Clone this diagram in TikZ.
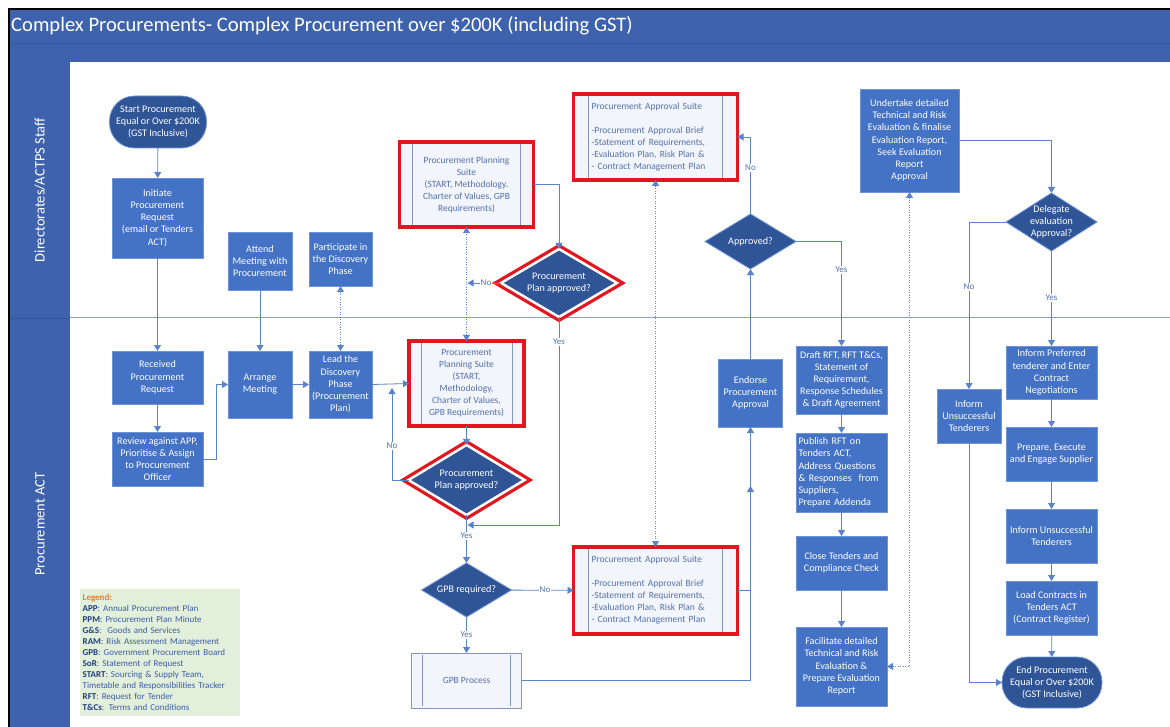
\documentclass[tikz,border=0pt]{standalone}
\usepackage{fontspec}
\setmainfont{Carlito}
\usetikzlibrary{shapes.geometric, arrows.meta, calc}
\definecolor{barblue}{HTML}{3F62AD}
\definecolor{bardark}{HTML}{34579E}
\definecolor{boxblue}{HTML}{4472C4}
\definecolor{boxedge}{HTML}{6F93D8}
\definecolor{darkblue}{HTML}{2F5597}
\definecolor{lineblue}{HTML}{5B82CC}
\definecolor{redc}{HTML}{E3161F}
\definecolor{suitefill}{HTML}{F2F5FB}
\definecolor{suiteedge}{HTML}{8496C0}
\definecolor{suitetext}{HTML}{5471AB}
\definecolor{laneline}{HTML}{8FA0C8}
\definecolor{legfill}{HTML}{E2EFDA}
\definecolor{legorange}{HTML}{ED7D31}
\definecolor{legdark}{HTML}{1F3E80}
\definecolor{legtext}{HTML}{3C5DA6}
\newcommand\bxfont{\fontsize{10.1}{12.2}\selectfont}
\newcommand\stfont{\fontsize{9.5}{12}\selectfont}
\newcommand\lbfont{\fontsize{9}{10}\selectfont}
\newcommand\lgab[1]{{\color{legdark}\bfseries #1}}
\begin{document}
\begin{tikzpicture}[x=1pt,y=-1pt,
  box/.style={rectangle, fill=boxblue, draw=boxedge, line width=0.8pt, text=white, align=center, font=\bxfont, inner sep=1pt, outer sep=0pt},
  term/.style={rectangle, rounded corners=25pt, fill=darkblue, draw=boxedge, line width=0.8pt, text=white, align=center, font=\bxfont, inner sep=1pt, outer sep=0pt},
  dec/.style={diamond, fill=darkblue, draw=boxedge, line width=0.8pt, text=white, align=center, font=\bxfont, inner sep=-12pt, outer sep=0pt, shape aspect=1.7},
  reddec/.style={dec, draw=white, line width=2.5pt, preaction={draw=redc, line width=9pt}},
  suite/.style={rectangle, fill=suitefill, draw=suiteedge, line width=0.8pt, text=suitetext, font=\stfont, align=center, inner sep=1pt, outer sep=0pt},
  redsuite/.style={suite, draw=redc, line width=3.5pt},
  conn/.style={draw=lineblue, line width=0.8pt},
  arr/.style={conn, -{Triangle[width=7pt,length=6pt]}},
  darr/.style={conn, dash pattern=on 1pt off 1.5pt, {Triangle[width=7pt,length=6pt]}-{Triangle[width=7pt,length=6pt]}},
  lbl/.style={font=\lbfont, text=suitetext, fill=white, inner sep=1pt}
]
\useasboundingbox (0,0) rectangle (1170,727);
% background and frame
\fill[white] (0,0) rectangle (1170,727);
\fill[barblue] (9,9) rectangle (1170,62);
\fill[barblue] (9,62) rectangle (70,727);
\draw[bardark, line width=0.6pt] (9,43) -- (1170,43);
\draw[bardark, line width=0.6pt] (9,318) -- (70,318);
\draw[black, line width=2pt] (8.5,727) -- (8.5,9.5) -- (1170,9.5);
\draw[laneline, line width=1pt] (70,318) -- (1170,318);
\node[anchor=west, text=white, font=\fontsize{20.6}{24}\selectfont, inner sep=0pt] (title) at (11,25.5) {Complex Procurements- Complex Procurement over \$200K (including GST)};
\node[rotate=90, text=white, font=\fontsize{14.5}{16}\selectfont] (lane1) at (40,190) {Directorates/ACTPS Staff};
\node[rotate=90, text=white, font=\fontsize{14.5}{16}\selectfont] (lane2) at (40,524) {Procurement ACT};

% top lane
\node[term, minimum width=97pt, minimum height=52pt] (start) at (158,122) {Start Procurement\\Equal or Over \$200K\\(GST Inclusive)};
\node[box, minimum width=91pt, minimum height=80pt] (initiate) at (157.5,218) {Initiate\\Procurement\\Request\\(email or Tenders\\ACT)};
\node[box, minimum width=64pt, minimum height=58pt] (attend) at (260,261) {Attend\\Meeting with\\Procurement};
\node[box, minimum width=63pt, minimum height=54pt] (participate) at (340.5,259) {Participate in\\the Discovery\\Phase};
\node[redsuite, minimum width=134pt, minimum height=85pt] (ppstop) at (466.5,184.5) {Procurement Planning\\Suite\\(START, Methodology.\\Charter of Values, GPB\\Requirements)};
\node[reddec, minimum width=116pt, minimum height=68pt] (dectop) at (559,283) {Procurement\\Plan approved?};
\node[redsuite, text width=128pt, align=left, inner xsep=18pt, minimum height=86pt] (pastop) at (655.5,137) {Procurement Approval Suite\\[12pt]-Procurement Approval Brief\\-Statement of Requirements,\\-Evaluation Plan, Risk Plan \&\\- Contract Management Plan};
\node[dec, minimum width=91pt, minimum height=55pt] (approved) at (750.5,241.5) {Approved?};
\node[box, minimum width=99pt, minimum height=103pt] (undertake) at (909.5,140.5) {Undertake detailed\\Technical and Risk\\Evaluation \& finalise\\Evaluation Report,\\Seek Evaluation\\Report\\Approval};
\node[dec, minimum width=91pt, minimum height=58pt] (delegate) at (1051.5,222) {Delegate\\evaluation\\Approval?};

% bottom lane
\node[box, minimum width=91pt, minimum height=53pt] (received) at (157.5,377.5) {Received\\Procurement\\Request};
\node[box, minimum width=91pt, minimum height=54pt] (review) at (157.5,459) {Review against APP,\\Prioritise \& Assign\\to Procurement\\Officer};
\node[box, minimum width=64pt, minimum height=67pt] (arrange) at (260,384.5) {Arrange\\Meeting};
\node[box, minimum width=63pt, minimum height=67pt] (lead) at (340.5,384.5) {Lead the\\Discovery\\Phase\\(Procurement\\Plan)};
\node[redsuite, minimum width=115pt, minimum height=85pt] (ppsbot) at (466.5,383.5) {Procurement\\Planning Suite\\(START,\\Methodology,\\Charter of Values,\\GPB Requirements)};
\node[reddec, minimum width=116pt, minimum height=70pt] (decbot) at (466.5,480) {Procurement\\Plan approved?};
\node[dec, minimum width=90pt, minimum height=54pt] (gpbreq) at (466.5,590) {GPB required?};
\node[redsuite, text width=128pt, align=left, inner xsep=18pt, minimum height=87pt] (pasbot) at (655.5,590.5) {Procurement Approval Suite\\[12pt]-Procurement Approval Brief\\-Statement of Requirements,\\-Evaluation Plan, Risk Plan \&\\- Contract Management Plan};
\node[suite, minimum width=110pt, minimum height=55pt] (gpbproc) at (466.5,680.5) {GPB Process};
\node[box, minimum width=64pt, minimum height=68pt] (endorse) at (750.5,393) {Endorse\\Procurement\\Approval};
\node[box, minimum width=91pt, minimum height=68pt] (draft) at (841.5,380) {Draft RFT, RFT T\&Cs,\\Statement of\\Requirement,\\Response Schedules\\\& Draft Agreement};
\node[box, text width=86pt, align=left, inner xsep=2.5pt, minimum height=79pt] (publish) at (841.5,472.5) {Publish RFT on\\Tenders ACT,\\Address Questions\\\& Responses\ \ from\\Suppliers,\\Prepare Addenda};
\node[box, minimum width=91pt, minimum height=54pt] (close) at (841.5,563) {Close Tenders and\\Compliance Check};
\node[box, minimum width=91pt, minimum height=79pt] (facilitate) at (841.5,666.5) {Facilitate detailed\\Technical and Risk\\Evaluation \&\\Prepare Evaluation\\Report};
\node[box, minimum width=64pt, minimum height=54pt] (informl) at (969,416) {Inform\\Unsuccessful\\Tenderers};
\node[box, minimum width=91pt, minimum height=53pt] (informpref) at (1051.5,372.5) {Inform Preferred\\tenderer and Enter\\Contract\\Negotiations};
\node[box, minimum width=91pt, minimum height=54pt] (prepare) at (1051.5,454) {Prepare, Execute\\and Engage Supplier};
\node[box, minimum width=91pt, minimum height=54pt] (informr) at (1051.5,536) {Inform Unsuccessful\\Tenderers};
\node[box, minimum width=91pt, minimum height=54pt] (load) at (1051.5,608) {Load Contracts in\\Tenders ACT\\(Contract Register)};
\node[term, minimum width=100pt, minimum height=51pt] (end) at (1052,682.5) {End Procurement\\Equal or Over \$200K\\(GST Inclusive)};

% predefined-process inner lines
\foreach \n/\d in {ppstop/13, ppsbot/12, pastop/15, pasbot/15, gpbproc/11} {
  \draw[suiteedge, line width=0.8pt] ($(\n.north west)+(\d,2)$) -- ($(\n.south west)+(\d,-2)$);
  \draw[suiteedge, line width=0.8pt] ($(\n.north east)+(-\d,2)$) -- ($(\n.south east)+(-\d,-2)$);
}

% legend
\node[anchor=north west, fill=legfill, minimum width=160pt, minimum height=127pt, text width=155pt, inner sep=2.5pt, align=left, font=\fontsize{9}{11}\selectfont, text=legtext] (legend) at (80,589) {{\color{legorange}\bfseries Legend:}\\
\lgab{APP}: Annual Procurement Plan\\
\lgab{PPM}: Procurement Plan Minute\\
\lgab{G\&S}:\ \ Goods and Services\\
\lgab{RAM}: Risk Assessment Management\\
\lgab{GPB}: Government Procurement Board\\
\lgab{SoR}: Statement of Request\\
\lgab{START}: Sourcing \& Supply Team,\\
Timetable and Responsibilities Tracker\\
\lgab{RFT}: Request for Tender\\
\lgab{T\&Cs}: Terms and Conditions};

% coordinates
\coordinate (j1) at (216,459);
\coordinate (noB) at (392,388);
\coordinate (noT) at (467.5,283);
\coordinate (yesT) at (467.5,525);
\coordinate (pasJ) at (750.5,486);

% connectors
\draw[arr] (start) -- (initiate);
\draw[arr] (initiate) -- (received);
\draw[arr] (attend) -- (arrange);
\draw[arr] (received) -- (review);
\draw[arr] (review.east) -- (j1) |- (arrange.west);
\draw[arr] (arrange) -- (lead);
\draw[darr] (lead.north) -- (participate.south);
\draw[arr] (lead.east) -- (ppsbot.west);
\draw[arr] (decbot.west) -| (noB);
\draw[darr] (ppsbot.north) -- (ppstop.south);
\draw[arr] (dectop.west) -- (noT);
\draw[arr] (ppstop.east) -| (dectop.north);
\draw[arr] (dectop.south) |- (yesT);
\draw[arr] (ppsbot) -- (decbot);
\draw[arr] (decbot) -- (gpbreq);
\draw[arr] (gpbreq) -- (pasbot);
\draw[arr] (gpbreq) -- (gpbproc);
\draw[arr] (gpbproc.east) -| (endorse.south);
\draw[arr] (pasbot.east) -| (pasJ);
\draw[arr] (endorse) -- (approved);
\draw[arr] (approved.north) |- (pastop.east);
\draw[arr] (approved.east) -| (draft.north);
\draw[darr] (pastop.south) -- (pasbot.north);
\draw[arr] (draft) -- (publish);
\draw[arr] (publish) -- (close);
\draw[arr] (close) -- (facilitate);
\draw[darr] (facilitate.east) -| (undertake.south);
\draw[arr] (undertake.east) -| (delegate.north);
\draw[arr] (delegate.west) -| (informl.north);
\draw[arr] (delegate) -- (informpref);
\draw[arr] (informl.south) |- (end.west);
\draw[arr] (informpref) -- (prepare);
\draw[arr] (prepare) -- (informr);
\draw[arr] (informr) -- (load);
\draw[arr] (load) -- (end);

% labels
\node[lbl] (l1) at (486,283) {No};
\node[lbl] (l2) at (559,342) {Yes};
\node[lbl] (l3) at (392,446) {No};
\node[lbl] (l4) at (466.5,536) {Yes};
\node[lbl] (l5) at (545,590) {No};
\node[lbl] (l6) at (466.5,635) {Yes};
\node[lbl] (l7) at (750.5,168) {No};
\node[lbl] (l8) at (841.5,270) {Yes};
\node[lbl] (l9) at (969,287) {No};
\node[lbl] (l10) at (1051.5,298) {Yes};
\end{tikzpicture}
\end{document}
